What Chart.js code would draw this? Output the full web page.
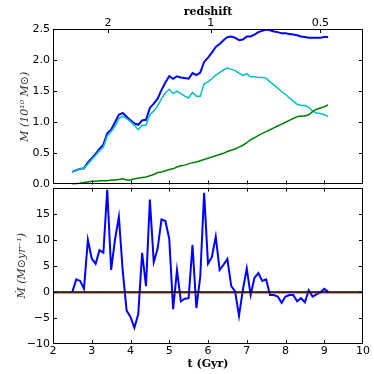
<!DOCTYPE html>
<html>
<head>
<meta charset="utf-8">
<script src="https://cdn.jsdelivr.net/npm/chart.js@4.4.1/dist/chart.umd.min.js"></script>
<style>
html, body { margin: 0; padding: 0; background: #fff; }
#wrap { position: relative; width: 374px; height: 374px; overflow: hidden; }
#wrap canvas { position: absolute; left: 0; }
#massChart { top: 0; }
#rateChart { top: 178px; }
</style>
</head>
<body>
<div id="wrap">
  <canvas id="massChart" width="374" height="194"></canvas>
  <canvas id="rateChart" width="374" height="196"></canvas>
</div>
<script>
// time of each snapshot (Gyr)
const timeGyr = [2.5, 2.6, 2.7, 2.8, 2.9, 3.0, 3.1, 3.2, 3.3, 3.4,
                 3.5, 3.6, 3.7, 3.8, 3.9, 4.0, 4.1, 4.2, 4.3, 4.4,
                 4.5, 4.6, 4.7, 4.8, 4.9, 5.0, 5.1, 5.2, 5.3, 5.4,
                 5.5, 5.6, 5.7, 5.8, 5.9, 6.0, 6.1, 6.2, 6.3, 6.4,
                 6.5, 6.6, 6.7, 6.8, 6.9, 7.0, 7.1, 7.2, 7.3, 7.4,
                 7.5, 7.6, 7.7, 7.8, 7.9, 8.0, 8.1, 8.2, 8.3, 8.4,
                 8.5, 8.6, 8.7, 8.8, 8.9, 9.0, 9.1];

// mass in 10^10 Msun
const massBlue = [0.20, 0.23, 0.25, 0.26, 0.35, 0.42, 0.49, 0.57, 0.64, 0.82,
                  0.88, 1.00, 1.12, 1.15, 1.09, 1.03, 0.98, 0.96, 1.03, 1.04,
                  1.23, 1.30, 1.38, 1.52, 1.64, 1.74, 1.70, 1.74, 1.72, 1.71,
                  1.70, 1.79, 1.76, 1.80, 1.97, 2.04, 2.12, 2.21, 2.26, 2.32,
                  2.37, 2.38, 2.36, 2.32, 2.33, 2.38, 2.38, 2.41, 2.45, 2.47,
                  2.49, 2.48, 2.46, 2.45, 2.43, 2.43, 2.42, 2.41, 2.40, 2.38,
                  2.37, 2.36, 2.36, 2.36, 2.36, 2.37, 2.37];
const massCyan = [0.20, 0.23, 0.25, 0.26, 0.33, 0.40, 0.47, 0.54, 0.60, 0.78,
                  0.85, 0.93, 1.06, 1.10, 1.06, 1.01, 0.95, 0.88, 0.95, 0.95,
                  1.12, 1.18, 1.26, 1.38, 1.47, 1.53, 1.46, 1.50, 1.46, 1.42,
                  1.39, 1.48, 1.42, 1.42, 1.62, 1.65, 1.70, 1.76, 1.80, 1.84,
                  1.87, 1.85, 1.83, 1.79, 1.75, 1.78, 1.73, 1.73, 1.72, 1.72,
                  1.71, 1.65, 1.60, 1.55, 1.49, 1.45, 1.39, 1.34, 1.29, 1.27,
                  1.27, 1.24, 1.18, 1.15, 1.14, 1.12, 1.09];
const massGreen = [0.00, 0.01, 0.02, 0.03, 0.04, 0.05, 0.05, 0.06, 0.06, 0.06,
                   0.07, 0.07, 0.08, 0.09, 0.07, 0.07, 0.09, 0.10, 0.11, 0.12,
                   0.14, 0.16, 0.19, 0.20, 0.22, 0.24, 0.25, 0.28, 0.30, 0.31,
                   0.33, 0.35, 0.36, 0.38, 0.40, 0.42, 0.44, 0.46, 0.48, 0.50,
                   0.53, 0.55, 0.57, 0.60, 0.63, 0.67, 0.72, 0.75, 0.79, 0.82,
                   0.85, 0.88, 0.91, 0.94, 0.97, 1.00, 1.03, 1.06, 1.09, 1.10,
                   1.10, 1.12, 1.17, 1.21, 1.23, 1.25, 1.28];

// accretion rate in Msun/yr
const massRate = [0, 2.4, 2.1, 0.6, 10.0, 6.4, 5.4, 8.0, 7.5, 19.6,
                  4.2, 10.0, 14.4, 4.0, -3.6, -4.8, -6.9, -4.3, 7.5, 1.1,
                  17.7, 5.7, 8.3, 13.9, 13.6, 10.2, -3.3, 4.2, -1.8, -1.3,
                  -1.2, 9.0, -3.1, 2.9, 19.0, 5.4, 6.7, 10.6, 4.2, 5.2,
                  6.3, 1.1, 0.1, -4.6, 0.4, 4.5, -0.6, 2.7, 3.6, 2.1,
                  2.4, -0.6, -0.6, -0.9, -2.1, -0.9, -0.6, -0.6, -1.8, -1.2,
                  -2.0, 0.3, -0.9, -0.5, -0.1, 0.6, 0];

// axis ticks
const timeTicks = [2, 3, 4, 5, 6, 7, 8, 9, 10];
const massTicks = [0, 0.5, 1.0, 1.5, 2.0, 2.5];
const rateTicks = [-10, -5, 0, 5, 10, 15, 20];
const redshiftLabels = ['2', '1', '0.5'];
const redshiftTimes = [3.42, 6.07, 8.90];

Chart.defaults.color = '#000';
Chart.defaults.font.family = 'DejaVu Sans';
Chart.defaults.font.size = 11;
Chart.defaults.animation = false;

const tickFont = { family: 'DejaVu Sans', size: 11 };

function toPoints(values) {
    return timeGyr.map((t, i) => ({ x: t, y: values[i] }));
}

function line(ctx, x1, y1, x2, y2) {
    ctx.beginPath();
    ctx.moveTo(x1, y1);
    ctx.lineTo(x2, y2);
    ctx.stroke();
}

// box round the plot with inward ticks, like matplotlib
const frameTicks = {
    id: 'frameTicks',
    afterDatasetsDraw(chart, args, opts) {
        const { ctx, chartArea: a, scales } = chart;
        const len = 4;
        ctx.save();
        if (opts.zeroLine) {
            const y0 = Math.round(scales.y.getPixelForValue(0));
            ctx.strokeStyle = '#b03020';
            ctx.lineWidth = 1;
            line(ctx, a.left, y0 + 1, a.right, y0 + 1);
            ctx.strokeStyle = '#000';
            ctx.lineWidth = 1.6;
            line(ctx, a.left, y0, a.right, y0);
        }
        ctx.strokeStyle = '#000';
        ctx.lineWidth = 1;
        ctx.strokeRect(Math.round(a.left) + 0.5, Math.round(a.top) + 0.5,
            Math.round(a.right - a.left) - 1, Math.round(a.bottom - a.top) - 1);
        opts.bottomTicks.forEach(v => {
            const x = Math.round(scales.x.getPixelForValue(v)) + 0.5;
            line(ctx, x, a.bottom, x, a.bottom - len);
        });
        opts.topTicks.forEach(v => {
            const x = Math.round(scales.x.getPixelForValue(v)) + 0.5;
            line(ctx, x, a.top, x, a.top + len);
        });
        opts.sideTicks.forEach(v => {
            const y = Math.round(scales.y.getPixelForValue(v)) + 0.5;
            line(ctx, a.left, y, a.left + len, y);
            line(ctx, a.right, y, a.right - len, y);
        });
        ctx.restore();
    }
};

new Chart(document.getElementById('massChart'), {
    type: 'line',
    data: {
        datasets: [
            { data: toPoints(massGreen), borderColor: '#008000', borderWidth: 1.5, pointRadius: 0 },
            { data: toPoints(massCyan), borderColor: '#00bfbf', borderWidth: 1.5, pointRadius: 0 },
            { data: toPoints(massBlue), borderColor: '#0000ff', borderWidth: 2, pointRadius: 0 }
        ]
    },
    options: {
        responsive: false,
        layout: { padding: { left: 0, right: 11, top: 0, bottom: 8 } },
        plugins: {
            legend: { display: false },
            tooltip: { enabled: false },
            frameTicks: {
                bottomTicks: timeTicks.slice(1, -1),
                topTicks: redshiftTimes,
                sideTicks: massTicks.slice(1, -1)
            }
        },
        scales: {
            x: { type: 'linear', min: 2, max: 10, display: false },
            xTop: {
                type: 'linear', position: 'top', min: 2, max: 10,
                grid: { display: false, drawTicks: false },
                border: { display: false },
                afterBuildTicks: scale => { scale.ticks = redshiftTimes.map(v => ({ value: v })); },
                afterFit: scale => { scale.height = 29; },
                ticks: {
                    font: tickFont, padding: -1, maxRotation: 0, autoSkip: false,
                    callback: (value, index) => redshiftLabels[index]
                },
                title: {
                    display: true, text: 'redshift',
                    font: { family: 'DejaVu Serif', size: 11, weight: 'bold' },
                    padding: { top: 6, bottom: 0 }
                }
            },
            y: {
                min: 0, max: 2.5,
                grid: { display: false, drawTicks: false },
                border: { display: false },
                afterBuildTicks: scale => { scale.ticks = massTicks.map(v => ({ value: v })); },
                afterFit: scale => { scale.width = 53; },
                ticks: { font: tickFont, padding: 3, callback: v => v.toFixed(1) },
                title: {
                    display: true, text: 'M (10¹⁰ M⊙)', color: '#333',
                    font: { family: 'DejaVu Serif', size: 11, style: 'italic' },
                    padding: { top: 19, bottom: 0 }
                }
            }
        }
    },
    plugins: [frameTicks]
});

new Chart(document.getElementById('rateChart'), {
    type: 'line',
    data: {
        datasets: [
            { data: toPoints(massRate), borderColor: '#0000ff', borderWidth: 2, pointRadius: 0 }
        ]
    },
    options: {
        responsive: false,
        layout: { padding: { left: 0, right: 11, top: 8, bottom: 0 } },
        plugins: {
            legend: { display: false },
            tooltip: { enabled: false },
            frameTicks: {
                zeroLine: true,
                bottomTicks: timeTicks.slice(1, -1),
                topTicks: timeTicks.slice(1, -1),
                sideTicks: rateTicks.slice(1, -1)
            }
        },
        scales: {
            x: {
                type: 'linear', min: 2, max: 10,
                grid: { display: false, drawTicks: false },
                border: { display: false },
                afterBuildTicks: scale => { scale.ticks = timeTicks.map(v => ({ value: v })); },
                afterFit: scale => { scale.height = 30; },
                ticks: { font: tickFont, padding: 1, maxRotation: 0, autoSkip: false },
                title: {
                    display: true, text: 't (Gyr)',
                    font: { family: 'DejaVu Serif', size: 11, weight: 'bold' },
                    padding: { top: 0, bottom: 3 }
                }
            },
            y: {
                min: -10, max: 20,
                grid: { display: false, drawTicks: false },
                border: { display: false },
                afterBuildTicks: scale => { scale.ticks = rateTicks.map(v => ({ value: v })); },
                afterFit: scale => { scale.width = 53; },
                ticks: {
                    font: tickFont, padding: 3,
                    callback: v => v === 20 ? '' : String(v).replace('-', '\u2212')
                },
                title: {
                    display: true, text: 'Ṁ (M⊙yr⁻¹)', color: '#333',
                    font: { family: 'DejaVu Serif', size: 11, style: 'italic' },
                    padding: { top: 16, bottom: 0 }
                }
            }
        }
    },
    plugins: [frameTicks]
});
</script>
</body>
</html>
